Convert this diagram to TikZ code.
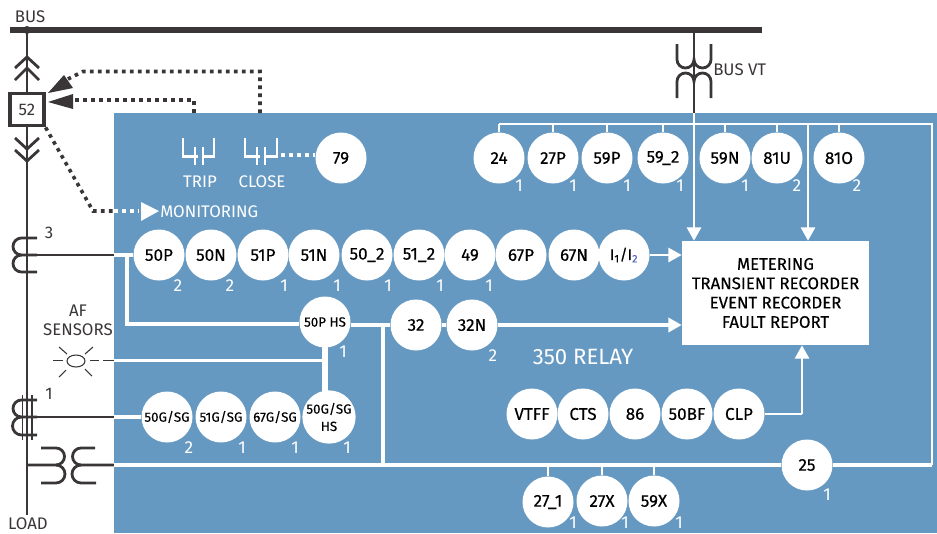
\documentclass[tikz,border=0pt]{standalone}
\usepackage{fontspec}
\setmainfont{Fira Sans}
\newfontfamily\medfont[FakeBold=0.25]{Fira Sans}
\usetikzlibrary{arrows.meta,shapes.geometric}
\definecolor{relay}{HTML}{6699C2}
\definecolor{ink}{HTML}{3A3638}
\definecolor{subtwo}{HTML}{5A62C0}
\tikzset{
  x=0.75pt,y=-0.75pt,
  relaycircle/.style={circle,fill=white,draw=none,minimum size=38.25pt,inner sep=0pt,text=black,font=\medfont\fontsize{12.8pt}{12.8pt}\selectfont},
  tinycircle/.style={relaycircle,font=\medfont\fontsize{10pt}{13pt}\selectfont},
  num/.style={text=white,font=\fontsize{13pt}{13pt}\selectfont,inner sep=0pt},
  lab/.style={text=ink,font=\fontsize{12.6pt}{12.6pt}\selectfont,inner sep=0pt},
  wlab/.style={text=white,font=\fontsize{12.6pt}{12.6pt}\selectfont,inner sep=0pt},
  wire/.style={draw=white,line width=2.5pt},
  thinwire/.style={draw=white,line width=2pt},
  dark/.style={draw=ink,line width=1.9pt},
  coil/.style={draw=ink,line width=2.1pt},
  dots/.style={draw=ink,line width=2.7pt,dash pattern=on 2.7pt off 3.3pt},
  wdots/.style={draw=white,line width=2.7pt,dash pattern=on 2.7pt off 3.3pt},
  warrow/.style={thinwire,-{Triangle[length=10pt,width=10.5pt]}},
  contact/.style={draw=white,line width=1.9pt},
}
\begin{document}
\begin{tikzpicture}
\useasboundingbox (0,0) rectangle (937,533);
\clip (0,0) rectangle (937,533);
\fill[relay] (114,113) rectangle (937,533);

% white wiring that passes behind the relay circles
\coordinate (hsDrop) at (325,392);
\draw[white,line width=3.9pt] (325,340) -- (hsDrop);

% relay nodes
\foreach \t/\x/\k in {24/499/a,27P/553/b,59P/607/c,59\_2/663/d,59N/725/e,81U/777/f,81O/839/g}{
  \node[relaycircle] (top\k) at (\x,158) {\t};
}
\foreach \x/\n in {519/1,573/1,627/1,680/1,745/1,797/2,857/2}{\node[num] (numt\x) at (\x,186) {\n};}
\foreach \t/\x/\k in {50P/159/a,50N/211/b,51P/263/c,51N/314/d,50\_2/367/e,51\_2/419/f,49/470/g,67P/521/h,67N/574/i}{
  \node[relaycircle] (mid\k) at (\x,255) {\t};
}
\node[relaycircle,font=\medfont\fontsize{11.5pt}{12pt}\selectfont] (i12) at (624,255) {I\textsubscript{1}/I\textsubscript{\textcolor{subtwo}{2}}};
\foreach \x/\n in {178/2,230/2,284/1,337/1,388/1,440/1,489/1}{\node[num] (numm\x) at (\x,286) {\n};}
\node[tinycircle] (hs) at (325,322) {50P HS};
\node[num] (numhs) at (343,352) {1};
\node[relaycircle] (c32) at (416,325) {32};
\node[relaycircle] (c32n) at (472,325) {32N};
\node[num] (num32n) at (493,356) {2};
\node[text=white,font=\fontsize{16.6pt}{16.6pt}\selectfont,inner sep=0pt] (relay) at (583,357) {350 RELAY};
\foreach \t/\x/\k in {{50G/SG}/167/a,{51G/SG}/221/b,{67G/SG}/275/c}{
  \node[tinycircle] (gnd\k) at (\x,417) {\t};
}
\node[tinycircle,align=center] (ghs) at (329,417) {50G/SG\\HS};
\foreach \x/\n in {189/2,242/1,295/1,347/1}{\node[num] (numg\x) at (\x,448) {\n};}
\foreach \t/\x/\k in {VTFF/532/a,CTS/583/b,86/635/c,50BF/687/d}{
  \node[relaycircle] (low\k) at (\x,414) {\t};
}
\node[relaycircle] (clp) at (739,414) {CLP};
\node[relaycircle] (c25) at (807,465) {25};
\node[num] (num25) at (827,495) {1};
\node[relaycircle] (c271) at (548,502) {27\_1};
\node[relaycircle] (c27x) at (602,501) {27X};
\node[relaycircle] (c59x) at (654,501) {59X};
\foreach \x in {573,625,679}{\node[num] (numb\x) at (\x,523) {1};}
\node[relaycircle] (c79) at (341,158) {79};
\node[fill=white,minimum width=140.25pt,minimum height=78pt,inner sep=0pt,align=center,text=black,font=\medfont\fontsize{12.6pt}{14.5pt}\selectfont] (report) at (775.5,293) {METERING\\TRANSIENT RECORDER\\EVENT RECORDER\\FAULT REPORT};

% bus and feeder
\coordinate (busL) at (10,30); \coordinate (busR) at (762,30);
\draw[ink,line width=3.9pt] (busL) -- (busR);
\fill[ink] (27,30) circle (4);
\coordinate (feedT) at (27,30); \coordinate (feedB) at (27,515);
\draw[dark] (feedT) -- (feedB);
\node[lab] (bus) at (30,17) {BUS};
\node[lab] (load) at (28,524) {LOAD};
% chevrons
\draw[coil] (15,68) -- (27,57) -- (39,68);
\draw[coil] (15,80) -- (27,68) -- (39,80);
\draw[coil] (15,138) -- (27,149) -- (39,138);
\draw[coil] (15,150) -- (27,161) -- (39,150);
\node[draw=ink,fill=white,line width=2.4pt,minimum width=25.5pt,minimum height=24.5pt,inner sep=0pt,text=ink,font=\fontsize{12.6pt}{12.6pt}\selectfont] (b52) at (27,109.5) {52};

% dotted control lines
\coordinate (closeT) at (260,113); \coordinate (tripT) at (194,113);
\draw[dots] (closeT) -- (260,71.5) -- (83,71.5) -- (68,79);
\fill[ink] (48,93) -- (64,75) -- (73,88) -- cycle;
\draw[dots] (tripT) -- (194,100) -- (72,100);
\fill[ink] (48,102) -- (73,94) -- (73,109) -- cycle;
\coordinate (monA) at (93,211); \coordinate (monB) at (114,211);
\draw[dots] (b52.south east) -- (monA) -- (monB);
\draw[wdots] (monB) -- (139,211);
\fill[white] (141,202) -- (159,211) -- (141,221) -- cycle;
\node[wlab,anchor=west] (mon) at (160,211.5) {MONITORING};

% CT 3
\draw[coil] (37,238) -- (21.5,238) arc[start angle=270,end angle=90,radius=8.5] -- (37,255);
\draw[coil] (21.5,255) arc[start angle=270,end angle=90,radius=8.5] -- (37,272);
\draw[dark] (27,255) -- (114,255);
\node[lab] (n3) at (49,233) {3};
% CT 1
\draw[coil] (37,400) -- (21.5,400) arc[start angle=270,end angle=90,radius=8.5] -- (37,417);
\draw[coil] (21.5,417) arc[start angle=270,end angle=90,radius=9] -- (37,435);
\draw[ink,line width=0.9pt] (22.5,395) -- (22.5,440);
\draw[ink,line width=0.9pt] (32,395) -- (32,440);
\draw[dark] (27,417) -- (114,417);
\node[lab] (n1) at (49,394) {1};
% transformer
\draw[coil] (41,448) -- (56,448) arc[start angle=-90,end angle=90,radius=8.5] -- (27,465);
\draw[coil] (56,465) arc[start angle=-90,end angle=90,radius=9] -- (41,483);
\draw[coil] (95,448) -- (81,448) arc[start angle=270,end angle=90,radius=8.5] -- (114,465);
\draw[coil] (81,465) arc[start angle=270,end angle=90,radius=9] -- (96,483);

% AF sensor
\node[align=center,text=ink,font=\fontsize{12.6pt}{14.5pt}\selectfont,inner sep=0pt] (af) at (78,320.5) {AF\\SENSORS};
\node[draw=ink,line width=0.8pt,ellipse,minimum width=13.5pt,minimum height=9pt,inner sep=0pt] (sens) at (76,361) {};
\draw[ink,line width=0.8pt] (53,360.5)--(63,360.5) (90,360.5)--(99,360.5) (103,360.5)--(114,360.5);
\draw[ink,line width=0.8pt] (59,347)--(67,354) (93,347)--(85,354) (59,377)--(66,370) (92,376)--(85,369);

% VT
\draw[coil] (694,30) -- (694,113);
\draw[coil] (677,44) -- (677,59.5) arc[start angle=180,end angle=0,radius=8.5] arc[start angle=180,end angle=0,radius=8.5] -- (711,44);
\draw[coil] (677,98) -- (677,81.5) arc[start angle=180,end angle=360,radius=8.5] arc[start angle=180,end angle=360,radius=8.5] -- (711,98);
\node[lab,anchor=west] (busvt) at (713,70) {BUS VT};

% white wiring
\coordinate (nwCorner) at (topa|-0,124);
\draw[thinwire] (nwCorner) -- (932,124) -- (932,465);
\draw[wire] (932,465) -- (c25.east);
\draw[wire] (c25.west) -- (114,465);
\draw[warrow] (694,113) -- (report.north-|694,0);
\draw[warrow] (808,124) -- (report.north-|808,0);
\draw[wire] (114,255) -- (mida.west);
\draw[wire] (127,255) -- (127,324) -- (hs.west|-0,324);
\draw[wire] (114,360.5) -- (323,360.5);
\draw[wire] (114,417) -- (gnda.west);
\coordinate (hsEast) at (hs.east|-c32);
\draw[wire] (hsEast) -- (383,325) -- (383,465);
\draw[wire] (383,325) -- (c32.west);
\draw[wire] (c32.east) -- (c32n.west);
\draw[warrow] (i12.east) -- (report.west|-i12);
\draw[warrow,line width=2.5pt] (c32n.east) -- (report.west|-c32n);
\foreach \k in {a,b,c,d,e,f,g} \draw[thinwire] (top\k.north) -- (top\k.north|-0,124);
\foreach \k in {c271,c27x,c59x} \draw[thinwire] (\k.north) -- (\k.north|-0,465);
\coordinate (clpTurn) at (802,414);
\draw[thinwire] (clp.east) -- (clpTurn);
\draw[warrow] (clpTurn) -- (report.south-|clpTurn);

% contacts
\draw[contact] (183,138) -- (183,156.5) -- (198,156.5);
\draw[contact] (195,147) -- (195,165);
\draw[contact] (203,147) -- (203,165);
\draw[contact] (204,156.5) -- (214,156.5) -- (214,138);
\draw[contact] (245,138) -- (245,156.5) -- (260,156.5);
\draw[contact] (257,147) -- (257,165);
\draw[contact] (265,147) -- (265,165);
\draw[contact] (266,156.5) -- (277,156.5) -- (277,138);
\node[wlab] (trip) at (200,181.5) {TRIP};
\node[wlab] (close) at (262,181.5) {CLOSE};
\coordinate (closeEnd) at (281,155);
\draw[wdots] (closeEnd) -- (c79.west|-closeEnd);
\end{tikzpicture}
\end{document}
